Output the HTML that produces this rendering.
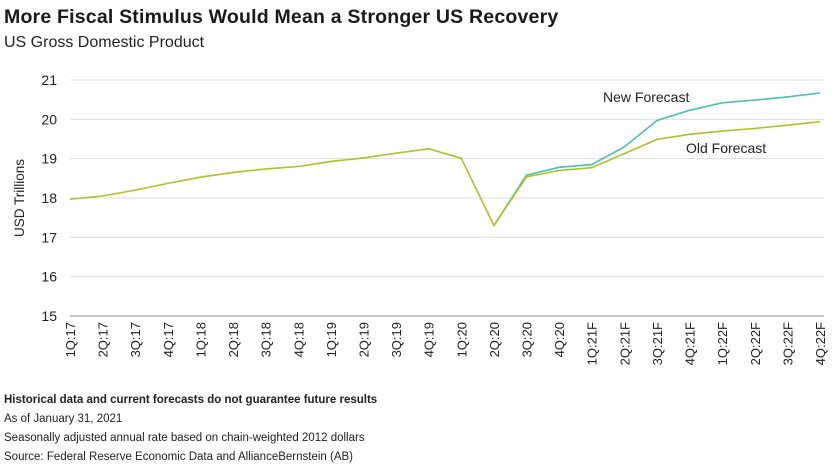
<!DOCTYPE html>
<html><head><meta charset="utf-8"><style>
body{margin:0;width:840px;height:465px;background:#fff;font-family:"Liberation Sans",sans-serif;overflow:hidden}
.t{position:absolute;left:4px;top:6px;font-size:19.5px;font-weight:bold;color:#1a1a1a;letter-spacing:0.2px}
.s{position:absolute;left:4px;top:34px;font-size:16px;color:#222}
.n{position:absolute;left:4px;font-size:11.5px;color:#222}
</style></head><body>
<div class="t">More Fiscal Stimulus Would Mean a Stronger US Recovery</div>
<div class="s">US Gross Domestic Product</div>
<svg id="c" width="840" height="465" style="position:absolute;left:0;top:0"></svg>
<div class="n" style="top:394px;font-weight:bold">Historical data and current forecasts do not guarantee future results</div>
<div class="n" style="top:413px">As of January 31, 2021</div>
<div class="n" style="top:432px">Seasonally adjusted annual rate based on chain-weighted 2012 dollars</div>
<div class="n" style="top:451px">Source: Federal Reserve Economic Data and AllianceBernstein (AB)</div>
<script>
const categories=["1Q:17","2Q:17","3Q:17","4Q:17","1Q:18","2Q:18","3Q:18","4Q:18","1Q:19","2Q:19","3Q:19","4Q:19","1Q:20","2Q:20","3Q:20","4Q:20","1Q:21F","2Q:21F","3Q:21F","4Q:21F","1Q:22F","2Q:22F","3Q:22F","4Q:22F"];
const oldForecast=[17.97,18.05,18.2,18.37,18.53,18.65,18.74,18.8,18.93,19.02,19.14,19.25,19.01,17.3,18.54,18.7,18.77,19.13,19.49,19.62,19.7,19.77,19.85,19.94];
const newForecast=[null,null,null,null,null,null,null,null,null,null,null,null,null,17.3,18.58,18.78,18.85,19.3,19.97,20.23,20.42,20.49,20.57,20.67];
const yTicks=[15,16,17,18,19,20,21];
const ns="http://www.w3.org/2000/svg",svg=document.getElementById("c");
const x0=70,x1=820,yTop=80,yBot=316,ymin=15,ymax=21;
const X=i=>x0+i*(x1-x0)/(categories.length-1);
const Y=v=>yBot-(v-ymin)/(ymax-ymin)*(yBot-yTop);
function mk(t,a){const e=document.createElementNS(ns,t);for(const k in a)e.setAttribute(k,a[k]);svg.appendChild(e);return e;}
yTicks.forEach(v=>{
const l=mk("line",{x1:x0,x2:x1+4,y1:Y(v),y2:Y(v),stroke:v===15?"#c8c8c8":"#dedede","stroke-width":v===15?2:1});


const t=mk("text",{x:57,y:Y(v)+5,"text-anchor":"end","font-size":14,fill:"#222"});t.textContent=v;


});
const ya=mk("text",{transform:"translate(24,198) rotate(-90)","text-anchor":"middle","font-size":13.5,fill:"#222"});ya.textContent="USD Trillions";


categories.forEach((c,i)=>{
const t=mk("text",{transform:`translate(${X(i)+5},322) rotate(-90)`,"text-anchor":"end","font-size":13,fill:"#222"});t.textContent=c;


});
function path(arr){let d="";arr.forEach((v,i)=>{if(v==null)return;d+=(d?"L":"M")+X(i).toFixed(1)+","+Y(v).toFixed(1);});return d;}
const pn=mk("path",{d:path(newForecast),fill:"none",stroke:"#4fc0ad","stroke-width":1.6});


const po=mk("path",{d:path(oldForecast),fill:"none",stroke:"#a8c526","stroke-width":1.6});


const ln=mk("text",{x:603,y:102,"font-size":14,fill:"#222"});ln.textContent="New Forecast";


const lo=mk("text",{x:686,y:153,"font-size":14,fill:"#222"});lo.textContent="Old Forecast";


</script>
</body></html>
